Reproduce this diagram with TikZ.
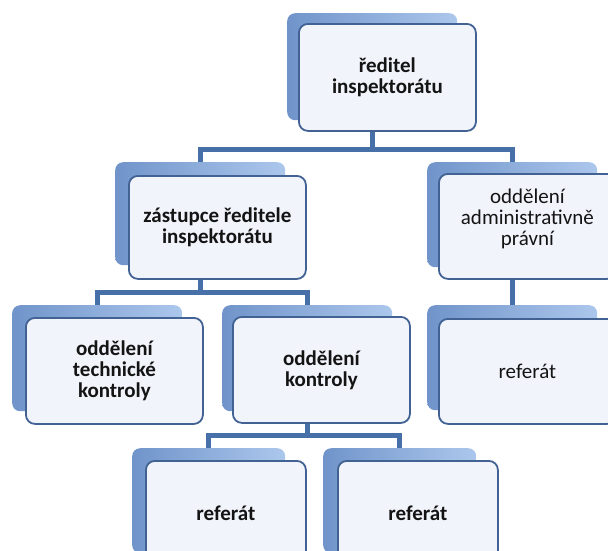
\documentclass[tikz,border=0pt]{standalone}
\usepackage{fontspec}
\setmainfont{Carlito}
\usepackage{xcolor}
\usepackage{tikz}
\usetikzlibrary{positioning, calc, backgrounds}

\definecolor{linkblue}{RGB}{72,112,168}
\definecolor{edgeblue}{RGB}{66,98,148}
\definecolor{backblueL}{RGB}{112,148,202}
\definecolor{backblueR}{RGB}{172,199,236}
\definecolor{frontfill}{RGB}{241,244,251}
\definecolor{txt}{RGB}{20,20,20}

\begin{document}
\begin{tikzpicture}[x=1pt, y=-1pt,
    back/.style={anchor=north west, inner sep=0pt, rounded corners=8pt,
      left color=backblueL, right color=backblueR, minimum height=105pt},
    front/.style={anchor=north west, inner sep=0pt, rounded corners=9pt,
      draw=edgeblue, line width=1.8pt, fill=frontfill, align=center,
      text=txt, minimum height=105pt},
    wide/.style={minimum width=177pt},
    narrow/.style={minimum width=160pt},
    boldtxt/.style={font=\fontsize{21}{21}\selectfont\bfseries},
    plaintxt/.style={font=\fontsize{21}{21}\selectfont},
    link/.style={draw=linkblue, line width=5pt}]
    \useasboundingbox (0,0) rectangle (608,550);
    \clip (0,0) rectangle (608,550);

    % top
    \node[back, minimum width=170pt, minimum height=107pt] (dirB) at (287,13) {};
    \node[front, wide, boldtxt, minimum height=107pt] (dir) at (298,23) {ředitel\\inspektorátu};

    % second row
    \node[back, minimum width=170pt, minimum height=103pt] (zastB) at (115,162) {};
    \node[front, wide, boldtxt, minimum height=103pt] (zast) at (128,175) {zástupce ředitele\\inspektorátu};
    \node[back, minimum width=170pt] (admB) at (427,162) {};
    \node[front, wide] (adm) at (438,173) {};
    \node[plaintxt, text=txt, align=center, yshift=8pt] (admText) at (adm.center) {oddělení\\administrativně\\právní};

    % third row
    \node[back, minimum width=170pt, minimum height=106pt] (techB) at (12,305) {};
    \node[front, wide, boldtxt, minimum height=106pt] (tech) at (25,317) {oddělení\\technické\\kontroly};
    \node[back, minimum width=170pt, minimum height=106pt] (kontrB) at (222,305) {};
    \node[front, wide, boldtxt, minimum height=106pt] (kontr) at (232,316) {oddělení\\kontroly};
    \node[back, minimum width=170pt] (admrefB) at (427,305) {};
    \node[front, wide, plaintxt] (admref) at (438,318) {referát};

    % bottom row
    \node[back, minimum width=153pt] (refAB) at (132,448) {};
    \node[front, narrow, boldtxt] (refA) at (145,460) {referát};
    \node[back, minimum width=153pt] (refBB) at (323,448) {};
    \node[front, narrow, boldtxt] (refB) at (337,460) {referát};

    % connectors
    \coordinate (bus1) at (dirB.center |- 0,149);
    \coordinate (bus2) at (zastB.center |- 0,292);
    \coordinate (bus3) at (kontrB.center |- 0,435);
    \begin{scope}[on background layer]
      \draw[link] (dirB.center |- dir.south) -- (bus1) -| (zastB.north);
      \draw[link] (bus1) -| (admB.north);
      \draw[link] (zastB.center |- zast.south) -- (bus2) -| (techB.north);
      \draw[link] (bus2) -| (kontrB.north);
      \draw[link] (admB.center |- adm.south) -- (admrefB.north);
      \draw[link] (kontrB.center |- kontr.south) -- (bus3) -| (refAB.north);
      \draw[link] (bus3) -| (refBB.north);
    \end{scope}
\end{tikzpicture}
\end{document}
